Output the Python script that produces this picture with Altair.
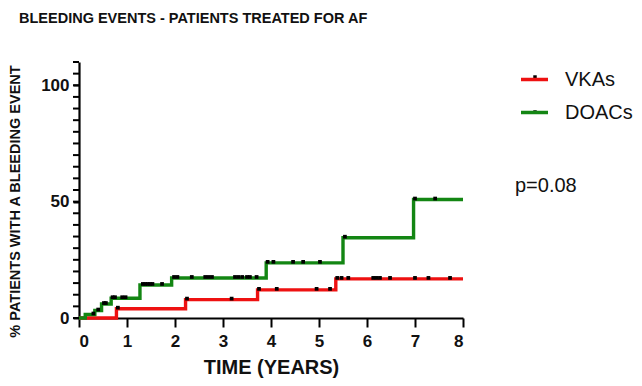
import altair as alt
import pandas as pd

# ---- data ----
groups = ["VKAs", "DOACs"]
colors = ["#ee1111", "#138613"]

vka_time = [0, 0.78, 2.22, 3.72, 5.35, 8.0]
vka_pct = [0, 4.0, 7.9, 12.1, 16.8, 16.8]
vka_censor = [0.81, 2.25, 3.18, 3.75, 4.12, 4.95, 5.23, 5.38, 5.47, 5.61,
              6.13, 6.2, 6.27, 6.48, 7.0, 7.28, 7.73]

doac_time = [0, 0.13, 0.33, 0.47, 0.67, 1.27, 1.93, 3.9, 5.5, 6.97, 8.0]
doac_pct = [0, 1.5, 3.2, 6.0, 8.5, 14.2, 17.2, 23.7, 34.5, 50.9, 50.9]
doac_censor = [0.3, 0.4, 0.52, 0.56, 0.7, 0.75, 0.9, 0.97, 1.33, 1.38, 1.43,
               1.48, 1.53, 1.73, 1.98, 2.05, 2.35, 2.63, 2.7, 2.77, 3.25,
               3.32, 3.4, 3.5, 3.56, 3.7, 3.93, 4.05, 4.46, 4.67, 5.02, 5.54,
               7.0, 7.42]

p_text = "p=0.08"
title_text = "BLEEDING EVENTS - PATIENTS TREATED FOR AF"
x_title = "TIME (YEARS)"
y_title = "% PATIENTS WITH A BLEEDING EVENT"
x_ticks = [0, 1, 2, 3, 4, 5, 6, 7, 8]
y_labels = [0, 50, 100]
y_minor = list(range(0, 111, 5))


def step_value(times, vals, t):
    v = vals[0]
    for ti, vi in zip(times, vals):
        if t >= ti:
            v = vi
    return v


curve_rows = []
for g, ts, vs in [("VKAs", vka_time, vka_pct), ("DOACs", doac_time, doac_pct)]:
    for t, v in zip(ts, vs):
        curve_rows.append({"group": g, "time": t, "pct": v})
curves = pd.DataFrame(curve_rows)

cens_rows = []
for g, ts, vs, cs in [("VKAs", vka_time, vka_pct, vka_censor),
                      ("DOACs", doac_time, doac_pct, doac_censor)]:
    for c in cs:
        cens_rows.append({"group": g, "time": c, "pct": step_value(ts, vs, c)})
cens = pd.DataFrame(cens_rows)

minor_df = pd.DataFrame({"time": [0] * len(y_minor), "pct": y_minor})

FONT = "Liberation Sans"

xscale = alt.Scale(domain=[0, 8], nice=False)
yscale = alt.Scale(domain=[0, 110], nice=False)

X = alt.X("time:Q", scale=xscale, title=x_title,
          axis=alt.Axis(values=x_ticks, format="d", grid=False))
Y = alt.Y("pct:Q", scale=yscale, title=y_title,
          axis=alt.Axis(values=y_labels, grid=False))

lines = alt.Chart(curves).mark_line(interpolate="step-after", strokeWidth=3.4).encode(
    x=X, y=Y,
    color=alt.Color("group:N", scale=alt.Scale(domain=groups, range=colors),
                    sort=groups,
                    legend=alt.Legend(title=None, orient="none", legendX=440, legendY=2,
                                      symbolType="stroke", symbolSize=729,
                                      symbolStrokeWidth=3.5, labelFontSize=20,
                                      labelFont=FONT, labelOffset=15,
                                      rowPadding=7, labelColor="#111")),
)

# minor ticks on the y axis every 5 %
minor = alt.Chart(minor_df).mark_rule(
    color="black", strokeWidth=2, opacity=1, xOffset=-6, x2Offset=0
).encode(y=Y, x=X, x2="time:Q")

ticks = alt.Chart(cens).mark_square(size=14, color="black", opacity=1, yOffset=-1).encode(
    x=X, y=Y,
)

one = pd.DataFrame({"k": [0]})
# small black marks drawn in the middle of the legend's line symbols
leg_mark1 = alt.Chart(one).mark_square(size=12, color="black", opacity=1).encode(
    x=alt.value(456), y=alt.value(15))
leg_mark2 = alt.Chart(one).mark_square(size=12, color="black", opacity=1).encode(
    x=alt.value(456), y=alt.value(50))

ptext = alt.Chart(pd.DataFrame({"t": [p_text]})).mark_text(
    align="left", baseline="alphabetic", fontSize=20, font=FONT, color="#111"
).encode(x=alt.value(436), y=alt.value(130), text="t:N")

chart = alt.layer(minor, lines, ticks, leg_mark1, leg_mark2, ptext).properties(
    width=384, height=256,
    title=alt.TitleParams(title_text, anchor="start", frame="group", dx=-60,
                          offset=35, fontSize=14.5, font=FONT, fontWeight="bold",
                          color="#111"),
    autosize=alt.AutoSizeParams(type="none"),
    padding={"left": 71, "top": 54, "right": 170, "bottom": 60},
).configure_view(stroke=None).configure_axis(
    domainColor="black", domainWidth=2.2, tickColor="black", tickWidth=2,
    labelFont=FONT, labelFontSize=17, labelFontWeight="bold",
    labelColor="#111", titleFont=FONT, titleFontWeight="bold", titleColor="#111",
).configure_axisX(
    tickSize=9, labelPadding=6, titleFontSize=20, titlePadding=8,
).configure_axisY(
    tickSize=6, labelPadding=4, titleFontSize=14.5, titleX=-57, titleY=139,
)

chart.save("out.html", embed_options={"renderer": "svg", "actions": False})
